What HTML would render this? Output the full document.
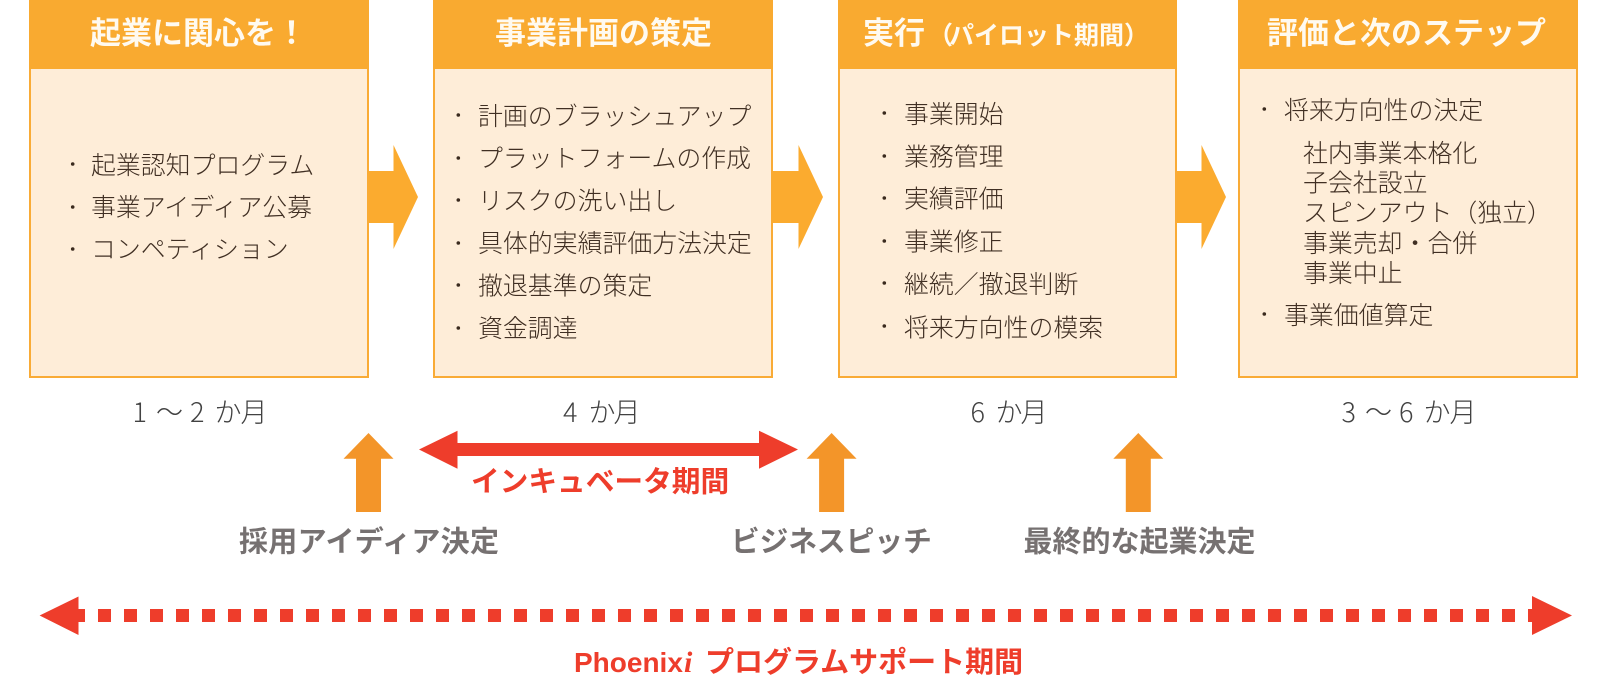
<!DOCTYPE html>
<html lang="ja"><head><meta charset="utf-8"><title>Phoenixi</title>
<style>
html,body{margin:0;padding:0;background:#fff}
svg{display:block}
text{font-family:"Noto Sans CJK JP","Liberation Sans",sans-serif}
.h{font-size:31px;font-weight:700;fill:#fffaf0}
.t{font-size:24.9px;font-weight:300;fill:#402f23}
.d{font-size:27px;font-weight:300;fill:#424242}
.g{font-size:29px;font-weight:700;fill:#767171}
.r{font-size:28.7px;font-weight:700;fill:#ee3d2b}
.l{font-family:"Liberation Sans",sans-serif}
</style></head><body>
<svg width="1611" height="700" viewBox="0 0 1611 700" xmlns="http://www.w3.org/2000/svg">
<defs>
<polygon id="ra" points="0,171 24.5,171 24.5,145 49,197 24.5,249 24.5,223 0,223" fill="#fbab2f"/>
<polygon id="ua" points="0,433 25,458.7 12.5,458.7 12.5,512 -12.5,512 -12.5,458.7 -25,458.7" fill="#f39529"/>
</defs>

<rect x="30" y="-2" width="338" height="379" fill="#feedd8" stroke="#f9ab36" stroke-width="2"/><rect x="29" y="0" width="340" height="69" fill="#f9aa30"/>
<rect x="434" y="-2" width="338" height="379" fill="#feedd8" stroke="#f9ab36" stroke-width="2"/><rect x="433" y="0" width="340" height="69" fill="#f9aa30"/>
<rect x="839" y="-2" width="337" height="379" fill="#feedd8" stroke="#f9ab36" stroke-width="2"/><rect x="838" y="0" width="339" height="69" fill="#f9aa30"/>
<rect x="1239" y="-2" width="338" height="379" fill="#feedd8" stroke="#f9ab36" stroke-width="2"/><rect x="1238" y="0" width="340" height="69" fill="#f9aa30"/>

<use href="#ra" x="369"/><rect x="772" y="171" width="3" height="52" fill="#fbab2f"/><use href="#ra" x="774"/><use href="#ra" x="1177"/>

<text class="h" x="90" y="44">起業に関心を！</text>
<text class="h" x="495" y="44">事業計画の策定</text>
<text class="h" x="863" y="44">実行<tspan style="font-size:25px" x="928" y="44">（</tspan><tspan style="font-size:25px" x="949" y="44">パイロット期間）</tspan></text>
<text class="h" x="1267" y="44">評価と次のステップ</text>

<g fill="#3a2a1e">
<circle cx="72.7" cy="164" r="1.8"/><circle cx="72.7" cy="207" r="1.8"/><circle cx="72.7" cy="249" r="1.8"/>
<circle cx="458.3" cy="115" r="1.8"/><circle cx="458.3" cy="158" r="1.8"/><circle cx="458.3" cy="200" r="1.8"/><circle cx="458.3" cy="243" r="1.8"/><circle cx="458.3" cy="285" r="1.8"/><circle cx="458.3" cy="328" r="1.8"/>
<circle cx="884.3" cy="113" r="1.8"/><circle cx="884.3" cy="156" r="1.8"/><circle cx="884.3" cy="198" r="1.8"/><circle cx="884.3" cy="241" r="1.8"/><circle cx="884.3" cy="283" r="1.8"/><circle cx="884.3" cy="326" r="1.8"/>
<circle cx="1264.3" cy="109" r="1.8"/><circle cx="1264.3" cy="314" r="1.8"/>
</g>

<text class="t" x="91" y="174">起業認知プログラム</text>
<text class="t" x="91" y="216">事業アイディア公募</text>
<text class="t" x="91" y="258">コンペティション</text>

<text class="t" x="478" y="125">計画のブラッシュアップ</text>
<text class="t" x="478" y="167">プラットフォームの作成</text>
<text class="t" x="478" y="209.500">リスクの洗い出し</text>
<text class="t" x="478" y="252">具体的実績評価方法決定</text>
<text class="t" x="478" y="294.500">撤退基準の策定</text>
<text class="t" x="478" y="337">資金調達</text>

<text class="t" x="904" y="123">事業開始</text>
<text class="t" x="904" y="165.500">業務管理</text>
<text class="t" x="904" y="207.500">実績評価</text>
<text class="t" x="904" y="250.500">事業修正</text>
<text class="t" x="904" y="293">継続／撤退判断</text>
<text class="t" x="904" y="336.500">将来方向性の模索</text>

<text class="t" x="1284" y="119">将来方向性の決定</text>
<text class="t" x="1303" y="162">社内事業本格化</text>
<text class="t" x="1303" y="191.500">子会社設立</text>
<text class="t" x="1303" y="221.500">スピンアウト（独立）</text>
<text class="t" x="1303" y="252">事業売却・合併</text>
<text class="t" x="1303" y="282">事業中止</text>
<text class="t" x="1284" y="324">事業価値算定</text>

<text class="d" x="132.500 156 190 214.500 240.500" y="422">1～2か月</text>
<text class="d" x="563 588.500 613.500" y="422">4か月</text>
<text class="d" x="970.500 995.500 1020.500" y="422">6か月</text>
<text class="d" x="1341.500 1365 1399 1423.500 1449.500" y="422">3～6か月</text>

<use href="#ua" x="368.500"/><use href="#ua" x="831.600"/><use href="#ua" x="1138.300"/>

<polygon points="419,449.500 457.500,430.700 457.500,443 759,443 759,430.700 798,449.500 759,468.700 759,456 457.500,456 457.500,468.700" fill="#ee3d2b"/>
<text class="r" x="471" y="491.500">インキュベータ期間</text>

<text class="g" x="239" y="551.500" textLength="260">採用アイディア決定</text>
<text class="g" x="731" y="551.500" style="font-size:28.7px">ビジネスピッチ</text>
<text class="g" x="1023.500" y="551.500">最終的な起業決定</text>

<line x1="72" y1="615.500" x2="1541" y2="615.500" stroke="#ee3d2b" stroke-width="13" stroke-dasharray="13 13"/>
<polygon points="39.600,615.500 78.500,596.500 78.500,635" fill="#ee3d2b"/>
<polygon points="1572,615.500 1532,596 1532,635" fill="#ee3d2b"/>

<text class="r l" x="574" y="672" style="font-size:28px">Phoenix<tspan style="font-family:'Liberation Serif',serif;font-style:italic;font-size:30px" x="684">i</tspan></text>
<text class="r" x="705" y="672" style="font-size:29px">プログラムサポート期間</text>
</svg>
</body></html>
